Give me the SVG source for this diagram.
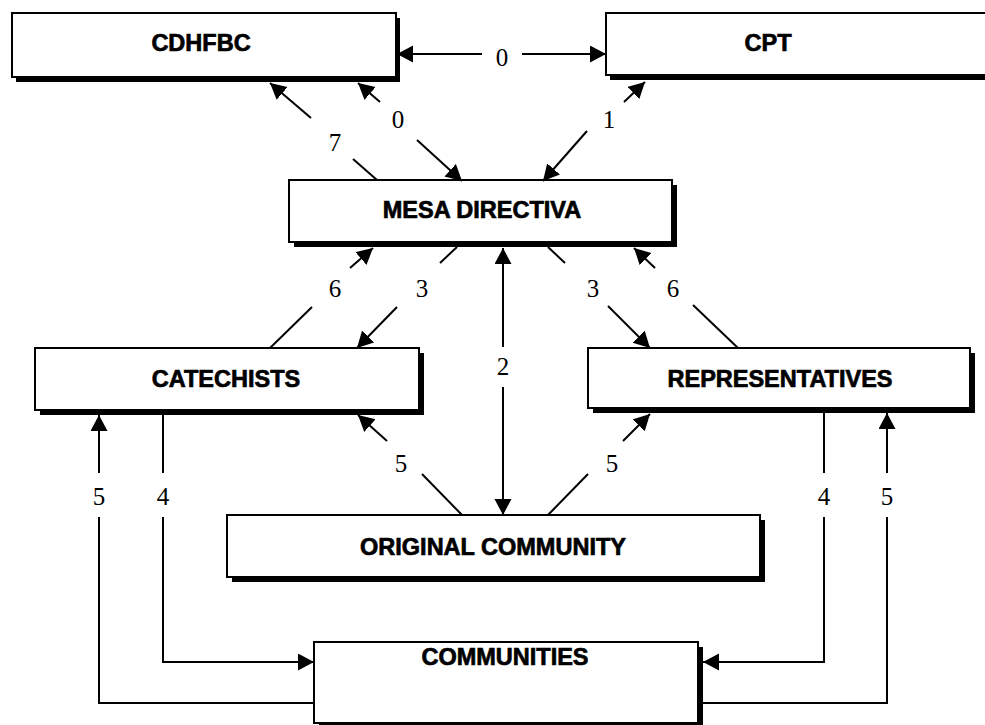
<svg xmlns="http://www.w3.org/2000/svg" width="985" height="725" viewBox="0 0 985 725">
<style>
  .shadow { fill: #000; }
  .box { fill: #fff; stroke: #000; stroke-width: 2; }
  .name { font-family: "Liberation Sans", Arial, sans-serif; font-weight: bold; font-size: 23.5px; text-anchor: middle; fill: #000; stroke: #000; stroke-width: 0.7; }
  .lbl { font-family: "Liberation Serif", "Times New Roman", serif; font-size: 25px; text-anchor: middle; fill: #000; }
  .conn { fill: none; stroke: #000; stroke-width: 2; }
</style>
<defs>
  <marker id="ah" markerUnits="userSpaceOnUse" markerWidth="18" markerHeight="18" refX="16" refY="8.5" orient="auto">
    <path d="M0,0 L16,8.5 L0,17 z" fill="#000"/>
  </marker>
</defs>
<rect width="985" height="725" fill="#fff"/>

<g id="cdhfbc">
  <rect class="shadow" x="16" y="18" width="384" height="64"/>
  <rect class="box" x="12" y="13" width="384" height="64"/>
  <text class="name" x="201" y="51">CDHFBC</text>
</g>
<g id="cpt">
  <rect class="shadow" x="610" y="18" width="400" height="62"/>
  <rect class="box" x="606" y="13" width="400" height="62"/>
  <text class="name" x="768" y="51">CPT</text>
</g>
<g id="mesa">
  <rect class="shadow" x="294" y="185" width="383" height="62"/>
  <rect class="box" x="289" y="180" width="383" height="62"/>
  <text class="name" x="482" y="218">MESA DIRECTIVA</text>
</g>
<g id="catechists">
  <rect class="shadow" x="40" y="353" width="384" height="62"/>
  <rect class="box" x="35" y="348" width="384" height="62"/>
  <text class="name" x="226" y="387">CATECHISTS</text>
</g>
<g id="representatives">
  <rect class="shadow" x="593" y="353" width="382" height="60"/>
  <rect class="box" x="588" y="348" width="382" height="60"/>
  <text class="name" x="780" y="387">REPRESENTATIVES</text>
</g>
<g id="original">
  <rect class="shadow" x="232" y="520" width="533" height="62"/>
  <rect class="box" x="227" y="515" width="533" height="62"/>
  <text class="name" x="493" y="555">ORIGINAL COMMUNITY</text>
</g>
<g id="communities">
  <rect class="shadow" x="319" y="647" width="384" height="90"/>
  <rect class="box" x="314" y="642" width="384" height="81"/>
  <text class="name" x="505" y="665">COMMUNITIES</text>
</g>

<g id="connectors">
  <!-- 0: CDHFBC <-> CPT -->
  <path class="conn" d="M482,54 H397" marker-end="url(#ah)"/>
  <path class="conn" d="M522,54 H606" marker-end="url(#ah)"/>
  <text class="lbl" x="502" y="66">0</text>

  <!-- 7: MESA -> CDHFBC -->
  <path class="conn" d="M377,180 L353,159"/>
  <path class="conn" d="M311,118 L270,83" marker-end="url(#ah)"/>
  <text class="lbl" x="335" y="151">7</text>

  <!-- 0: CDHFBC <-> MESA -->
  <path class="conn" d="M380,102 L358,83" marker-end="url(#ah)"/>
  <path class="conn" d="M417,140 L462,181" marker-end="url(#ah)"/>
  <text class="lbl" x="398" y="128">0</text>

  <!-- 1: CPT <-> MESA -->
  <path class="conn" d="M624,102 L645,82" marker-end="url(#ah)"/>
  <path class="conn" d="M587,131 L543,181" marker-end="url(#ah)"/>
  <text class="lbl" x="609" y="128">1</text>

  <!-- 6 left: CATECHISTS -> MESA -->
  <path class="conn" d="M270,348 L312,307"/>
  <path class="conn" d="M350,268 L373,248" marker-end="url(#ah)"/>
  <text class="lbl" x="335" y="297">6</text>

  <!-- 3 left: MESA -> CATECHISTS -->
  <path class="conn" d="M457,247 L440,263"/>
  <path class="conn" d="M397,307 L357,348" marker-end="url(#ah)"/>
  <text class="lbl" x="422" y="297">3</text>

  <!-- 2: MESA <-> ORIGINAL -->
  <path class="conn" d="M503,347 V248" marker-end="url(#ah)"/>
  <path class="conn" d="M503,387 V515" marker-end="url(#ah)"/>
  <text class="lbl" x="503" y="375">2</text>

  <!-- 3 right: MESA -> REPRESENTATIVES -->
  <path class="conn" d="M548,247 L565,263"/>
  <path class="conn" d="M608,306 L650,348" marker-end="url(#ah)"/>
  <text class="lbl" x="593" y="297">3</text>

  <!-- 6 right: REPRESENTATIVES -> MESA -->
  <path class="conn" d="M738,348 L693,305"/>
  <path class="conn" d="M655,268 L634,248" marker-end="url(#ah)"/>
  <text class="lbl" x="673" y="297">6</text>

  <!-- 5 mid-left: ORIGINAL -> CATECHISTS -->
  <path class="conn" d="M462,515 L422,474"/>
  <path class="conn" d="M387,441 L358,415" marker-end="url(#ah)"/>
  <text class="lbl" x="401" y="472">5</text>

  <!-- 5 mid-right: ORIGINAL -> REPRESENTATIVES -->
  <path class="conn" d="M548,515 L588,474"/>
  <path class="conn" d="M623,441 L650,414" marker-end="url(#ah)"/>
  <text class="lbl" x="612" y="472">5</text>

  <!-- 4 left: CATECHISTS -> COMMUNITIES -->
  <path class="conn" d="M163,415 V473"/>
  <path class="conn" d="M163,517 V662 H314" marker-end="url(#ah)"/>
  <text class="lbl" x="163" y="505">4</text>

  <!-- 5 left: COMMUNITIES -> CATECHISTS -->
  <path class="conn" d="M314,703 H99 V517"/>
  <path class="conn" d="M99,473 V415" marker-end="url(#ah)"/>
  <text class="lbl" x="99" y="505">5</text>

  <!-- 4 right: REPRESENTATIVES -> COMMUNITIES -->
  <path class="conn" d="M824,413 V473"/>
  <path class="conn" d="M824,517 V662 H703" marker-end="url(#ah)"/>
  <text class="lbl" x="824" y="505">4</text>

  <!-- 5 right: COMMUNITIES -> REPRESENTATIVES -->
  <path class="conn" d="M703,703 H887 V517"/>
  <path class="conn" d="M887,473 V413" marker-end="url(#ah)"/>
  <text class="lbl" x="887" y="505">5</text>
</g>
</svg>
